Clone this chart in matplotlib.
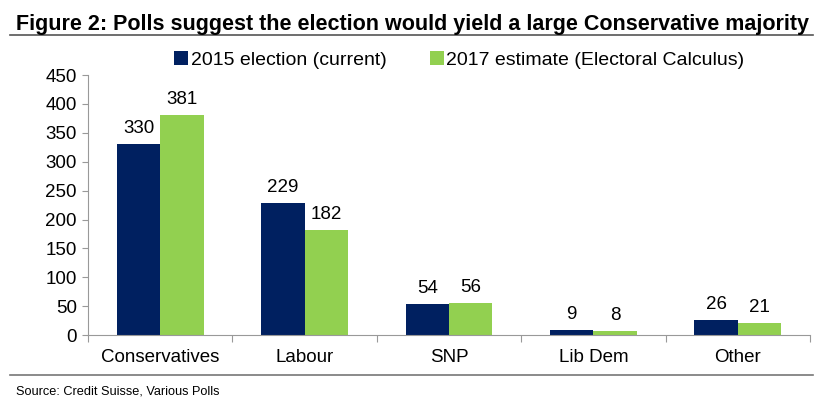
import numpy as np
import matplotlib.pyplot as plt
from matplotlib.lines import Line2D

parties = ["Conservatives", "Labour", "SNP", "Lib Dem", "Other"]
seats_2015 = [330, 229, 54, 9, 26]
seats_2017 = [381, 182, 56, 8, 21]
yticks = [0, 50, 100, 150, 200, 250, 300, 350, 400, 450]

navy = "#002060"
green = "#92D050"

plt.rcParams['font.family'] = ['Liberation Sans', 'DejaVu Sans']

fig = plt.figure(figsize=(8.25, 3.99), dpi=100)
ax = fig.add_axes([0.1067, 0.160, 0.875, 0.652])

x = np.arange(len(parties))
w = 0.3
b1 = ax.bar(x - w / 2, seats_2015, w, color=navy, label="2015 election (current)")
b2 = ax.bar(x + w / 2, seats_2017, w, color=green, label="2017 estimate (Electoral Calculus)")

for bars, vals in ((b1, seats_2015), (b2, seats_2017)):
    for r, v in zip(bars, vals):
        ax.text(r.get_x() + r.get_width() / 2, v + 12, str(v),
                ha="center", va="bottom", fontsize=13.5)

ax.set_xlim(-0.5, len(parties) - 0.5)
ax.set_ylim(0, 450)
ax.set_yticks(yticks)
ax.tick_params(axis="y", labelsize=13.5, length=4, color="#999999", pad=4)
ax.set_xticks(np.arange(len(parties) + 1) - 0.5)
ax.set_xticklabels([])
ax.set_xticks(x, minor=True)
ax.set_xticklabels(parties, minor=True, fontsize=13.5)
ax.tick_params(axis="x", which="major", length=5, color="#999999")
ax.tick_params(axis="x", which="minor", length=0, pad=10)
for s in ("top", "right"):
    ax.spines[s].set_visible(False)
for s in ("left", "bottom"):
    ax.spines[s].set_color("#999999")

fig.legend(loc="center left", bbox_to_anchor=(0.211, 0.85), ncol=2, frameon=False,
           fontsize=14, handlelength=0.72, handleheight=0.72, handletextpad=0.15,
           columnspacing=2.2, borderaxespad=0, borderpad=0)

fig.text(0.019, 0.925, "Figure 2: Polls suggest the election would yield a large Conservative majority",
         fontsize=15.5, fontweight="bold", ha="left", va="baseline")
fig.add_artist(Line2D([0.012, 0.985], [0.912, 0.912], color="#555555", lw=1.2))
fig.add_artist(Line2D([0.012, 0.985], [0.060, 0.060], color="#777777", lw=1.2))
fig.text(0.019, 0.035, "Source: Credit Suisse, Various Polls", fontsize=9.2, ha="left", va="top")

fig.savefig("out.png", dpi=100)
